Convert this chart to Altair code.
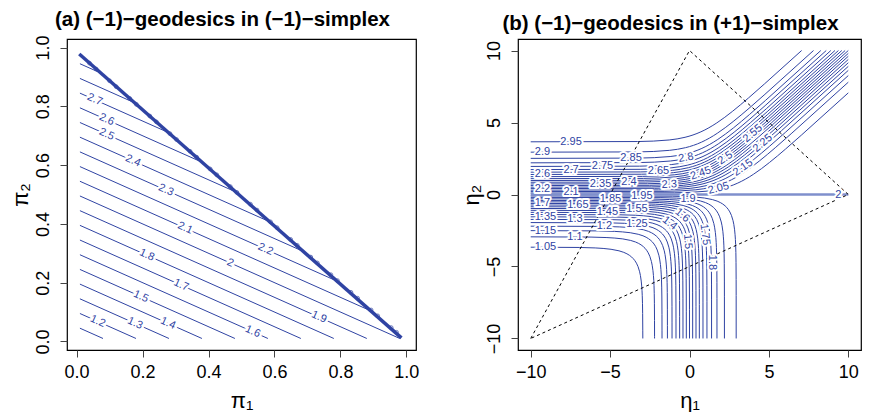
import altair as alt
import pandas as pd

BLUE = "#2f43a3"
FONT = "Liberation Sans"

# ---------------- Panel (a): lines in the (-1)-simplex ----------------
A_LEVELS = [1.1, 1.2, 1.3, 1.4, 1.5, 1.6, 1.7, 1.8, 1.9, 2.0, 2.1, 2.2, 2.3, 2.4, 2.5, 2.6, 2.7, 2.8, 2.9]
A_X0 = [0.01, 0.01, 0.01, 0.01, 0.01, 0.01, 0.01, 0.01, 0.01, 0.01, 0.01, 0.01, 0.01, 0.01, 0.01, 0.01, 0.01, 0.01, 0.01]
A_Y0 = [0.045, 0.095, 0.145, 0.195, 0.245, 0.295, 0.345, 0.395, 0.445, 0.495, 0.545, 0.595, 0.645, 0.695, 0.745, 0.795, 0.845, 0.895, 0.945]
A_X1 = [0.08, 0.18, 0.28, 0.38, 0.48, 0.58, 0.68, 0.78, 0.88, 0.98, 0.88, 0.78, 0.68, 0.58, 0.48, 0.38, 0.28, 0.18, 0.08]
A_Y1 = [0.01, 0.01, 0.01, 0.01, 0.01, 0.01, 0.01, 0.01, 0.01, 0.01, 0.11, 0.21, 0.31, 0.41, 0.51, 0.61, 0.71, 0.81, 0.91]

EDGE_PI1 = [0.008, 0.985]
EDGE_PI2 = [0.978, 0.012]

GLYPH_PI1 = [0.039, 0.059, 0.100, 0.120, 0.161, 0.181, 0.222, 0.242, 0.283, 0.303, 0.344, 0.364,
             0.405, 0.425, 0.466, 0.486, 0.527, 0.547, 0.588, 0.608, 0.649, 0.669, 0.710, 0.730,
             0.771, 0.791, 0.832, 0.852, 0.893, 0.913, 0.954, 0.970]
GLYPH_PI2 = [0.947, 0.927, 0.887, 0.867, 0.827, 0.807, 0.767, 0.747, 0.707, 0.687, 0.647, 0.627,
             0.587, 0.567, 0.527, 0.507, 0.467, 0.447, 0.407, 0.387, 0.347, 0.327, 0.287, 0.267,
             0.227, 0.207, 0.167, 0.147, 0.107, 0.087, 0.047, 0.031]

A_LAB_TEXT = ["2.7", "2.6", "2.5", "2.4", "2.3", "2.1", "2", "2.2", "1.9", "1.8", "1.7", "1.6", "1.5", "1.4", "1.3", "1.2"]
A_LAB_PI1 = [0.055, 0.091, 0.091, 0.171, 0.271, 0.329, 0.466, 0.573, 0.735, 0.213, 0.317, 0.534, 0.195, 0.277, 0.177, 0.064]
A_LAB_PI2 = [0.8225, 0.7545, 0.7045, 0.6145, 0.5145, 0.3855, 0.267, 0.3135, 0.0825, 0.2935, 0.1915, 0.033, 0.1525, 0.0615, 0.0615, 0.068]
A_LAB_ANGLE = 24

# ---------------- Panel (b): curves in the (+1)-simplex ----------------
B_LEVELS_LOW = [1.05, 1.10, 1.15, 1.20, 1.25, 1.30, 1.35, 1.40, 1.45, 1.50, 1.55, 1.60, 1.65, 1.70, 1.75, 1.80, 1.85, 1.90, 1.95]
B_H_LOW = [-3.66, -2.94, -2.51, -2.20, -1.95, -1.73, -1.55, -1.39, -1.24, -1.10, -0.97, -0.85, -0.73, -0.62, -0.51, -0.41, -0.30, -0.20, -0.10]
B_V_LOW = [-2.94, -2.20, -1.73, -1.39, -1.10, -0.85, -0.62, -0.41, -0.20, 0.00, 0.20, 0.41, 0.62, 0.85, 1.10, 1.39, 1.73, 2.20, 2.94]

B_LEVELS_HIGH = [2.05, 2.10, 2.15, 2.20, 2.25, 2.30, 2.35, 2.40, 2.45, 2.50, 2.55, 2.60, 2.65, 2.70, 2.75, 2.80, 2.85, 2.90, 2.95]
B_H_HIGH = [0.10, 0.20, 0.30, 0.41, 0.51, 0.62, 0.73, 0.85, 0.97, 1.10, 1.24, 1.39, 1.55, 1.73, 1.95, 2.20, 2.51, 2.94, 3.66]
B_W_HIGH = [3.04, 2.40, 2.04, 1.79, 1.61, 1.47, 1.35, 1.25, 1.17, 1.10, 1.04, 0.98, 0.93, 0.89, 0.85, 0.81, 0.78, 0.75, 0.72]

# bend shapes of the curves, relative to their corner
U_ELBOW = [-4, -3, -2.5, -2, -1.5, -1.2, -1, -0.85, -0.7, -0.6, -0.5, -0.4, -0.3, -0.2, -0.15, -0.1, -0.07, -0.05, -0.035, -0.02, -0.01, -0.003, -0.001]
G_ELBOW = [-0.018, -0.051, -0.086, -0.145, -0.252, -0.358, -0.459, -0.558, -0.686, -0.796, -0.933, -1.109, -1.350, -1.708, -1.971, -2.352, -2.694, -3.021, -3.370, -3.922, -4.610, -5.81, -6.91]
U_SHOULDER = [-4, -3, -2, -1.5, -1, -0.75, -0.5, -0.25, 0, 0.25, 0.5, 0.75, 1, 1.5, 2, 2.5, 3, 4]
G_SHOULDER = [0.018, 0.049, 0.127, 0.201, 0.313, 0.387, 0.474, 0.576, 0.693, 0.826, 0.974, 1.137, 1.313, 1.701, 2.127, 2.579, 3.049, 4.018]

B_MID_LEVEL = 2.0
B_MID_E1 = [-10, 10]
B_MID_E2 = [0, 0]

TRI_E1 = [-10, 0, 10, -10]
TRI_E2 = [-10, 10, 0, -10]

B_LAB_TEXT = ["2.95", "2.9", "2.85", "2.8", "2.75", "2.7", "2.65", "2.6", "2.55", "2.5", "2.45", "2.4", "2.35",
              "2.3", "2.25", "2.2", "2.15", "2.1", "2.05", "2", "1.95", "1.9", "1.85", "1.7", "1.65", "1.6",
              "1.55", "1.45", "1.4", "1.35", "1.3", "1.25", "1.2", "1.15", "1.1", "1.75", "1.5", "1.05", "1.8"]
B_LAB_E1 = [-7.46, -9.26, -3.68, -0.22, -5.48, -7.46, -1.95, -9.26, 3.99, 2.26, 0.71, -3.81, -5.60,
            -1.27, 4.61, -9.26, 3.37, -7.46, 1.83, 9.37, -3.00, -0.09, -4.98, -9.26, -7.03, -0.45,
            -3.31, -5.17, -1.25, -9.07, -7.21, -3.31, -5.36, -9.07, -7.21, 0.97, -0.12, -9.07, 1.39]
B_LAB_E2 = [3.66, 2.94, 2.52, 2.55, 1.95, 1.73, 1.61, 1.39, 4.24, 2.53, 1.46, 0.86, 0.73,
            0.68, 3.56, 0.41, 1.87, 0.20, 0.42, 0.00, -0.12, -0.31, -0.30, -0.62, -0.73, -1.45,
            -1.00, -1.24, -2.00, -1.55, -1.73, -2.08, -2.21, -2.51, -2.94, -2.78, -3.27, -3.66, -4.72]
B_LAB_ANGLE = [0, 0, 0, 350, 0, 0, 0, 0, 320, 326, 341, 0, 0,
               357, 320, 0, 325, 0, 345, 0, 0, 0, 0, 0, 0, 40,
               0, 0, 38, 0, 0, 0, 0, 0, 0, 83, 85, 0, 90]

# ---------------- build tables ----------------
rows = []
for lv, x0, y0, x1, y1 in zip(A_LEVELS, A_X0, A_Y0, A_X1, A_Y1):
    rows.append({"level": lv, "ord": 0, "pi1": x0, "pi2": y0})
    rows.append({"level": lv, "ord": 1, "pi1": x1, "pi2": y1})
df_a = pd.DataFrame(rows)
df_edge = pd.DataFrame({"pi1": EDGE_PI1, "pi2": EDGE_PI2, "ord": [0, 1]})
df_glyph = pd.DataFrame({"pi1": GLYPH_PI1, "pi2": GLYPH_PI2})
df_alab = pd.DataFrame({"t": A_LAB_TEXT, "pi1": A_LAB_PI1, "pi2": A_LAB_PI2, "ang": [A_LAB_ANGLE] * len(A_LAB_TEXT)})

rows = []
for lv, h, v in zip(B_LEVELS_LOW, B_H_LOW, B_V_LOW):
    pts = [(-10.0, h)]
    pts += [(v + u, h + g) for u, g in zip(U_ELBOW, G_ELBOW) if h + g > -10]
    pts.append((v, -10.0))
    for i, (e1, e2) in enumerate(pts):
        rows.append({"level": lv, "ord": i, "e1": e1, "e2": e2})
for lv, h, w in zip(B_LEVELS_HIGH, B_H_HIGH, B_W_HIGH):
    pts = [(-10.0, h)]
    pts += [(w + u, h + g) for u, g in zip(U_SHOULDER, G_SHOULDER)]
    c = h - w
    pts.append((10 - c, 10.0) if c >= 0 else (10.0, 10 + c))
    for i, (e1, e2) in enumerate(pts):
        rows.append({"level": lv, "ord": i, "e1": e1, "e2": e2})
df_b = pd.DataFrame(rows)
df_mid = pd.DataFrame({"e1": B_MID_E1, "e2": B_MID_E2, "ord": [0, 1], "level": [B_MID_LEVEL] * 2})
df_tri = pd.DataFrame({"e1": TRI_E1, "e2": TRI_E2, "ord": [0, 1, 2, 3]})
df_blab = pd.DataFrame({"t": B_LAB_TEXT, "e1": B_LAB_E1, "e2": B_LAB_E2, "ang": B_LAB_ANGLE})

# ---------------- scales / axes ----------------
W, H = 349, 311
W2 = 343


def title(txt):
    return alt.TitleParams(txt, fontSize=20.5, fontWeight="bold", font=FONT, anchor="middle",
                           frame="group", offset=5, dx=-19, color="black")


def y_axis(vals, ttl, fmt=None):
    kw = dict(values=vals, title=ttl, labelAngle=270, labelAlign="center", labelBaseline="bottom",
              titleAngle=270, titleX=-40, titleY=H / 2, titleBaseline="alphabetic", titleAlign="center")
    if fmt:
        kw["format"] = fmt
    return alt.Axis(**kw)


def x_axis(vals, ttl, width, fmt=None):
    kw = dict(values=vals, title=ttl, titleX=width / 2, titleY=57, titleBaseline="alphabetic",
              titleAlign="center")
    if fmt:
        kw["format"] = fmt
    return alt.Axis(**kw)


xa = alt.X("pi1:Q", scale=alt.Scale(domain=[-0.0292, 1.0292], nice=False, zero=False),
           axis=x_axis([0, 0.2, 0.4, 0.6, 0.8, 1.0], "π₁", W, ".1f"))
ya = alt.Y("pi2:Q", scale=alt.Scale(domain=[-0.0292, 1.0292], nice=False, zero=False),
           axis=y_axis([0, 0.2, 0.4, 0.6, 0.8, 1.0], "π₂", ".1f"))
xb = alt.X("e1:Q", scale=alt.Scale(domain=[-10.8, 10.8], nice=False, zero=False),
           axis=x_axis([-10, -5, 0, 5, 10], "η₁", W2))
yb = alt.Y("e2:Q", scale=alt.Scale(domain=[-10.8, 10.8], nice=False, zero=False),
           axis=y_axis([-10, -5, 0, 5, 10], "η₂"))

# ---------------- panel (a) ----------------
a_lines = alt.Chart(df_a).mark_line(color=BLUE, strokeWidth=1).encode(
    x=xa, y=ya, detail="level:N", order="ord:O")
a_edge = alt.Chart(df_edge).mark_line(color=BLUE, strokeWidth=3.5).encode(
    x="pi1:Q", y="pi2:Q", order="ord:O")
a_glyph = alt.Chart(df_glyph).mark_point(shape="circle", size=14, filled=False, color=BLUE, strokeWidth=1).encode(
    x="pi1:Q", y="pi2:Q")
a_halo = alt.Chart(df_alab).mark_text(font=FONT, fontSize=11, color="white", stroke="white",
                                      strokeWidth=5, strokeJoin="round").encode(
    x="pi1:Q", y="pi2:Q", text="t:N", angle=alt.Angle("ang:Q", scale=None))
a_text = alt.Chart(df_alab).mark_text(font=FONT, fontSize=11, color=BLUE).encode(
    x="pi1:Q", y="pi2:Q", text="t:N", angle=alt.Angle("ang:Q", scale=None))
left = alt.layer(a_lines, a_edge, a_glyph, a_halo, a_text).properties(
    width=W, height=H, title=title("(a) (−1)−geodesics in (−1)−simplex"))

# ---------------- panel (b) ----------------
b_curves = alt.Chart(df_b).mark_line(color=BLUE, strokeWidth=1, clip=True).encode(
    x=xb, y=yb, detail="level:N", order="ord:O")
b_mid = alt.Chart(df_mid).mark_line(color="#7f8fcc", strokeWidth=2.5).encode(
    x="e1:Q", y="e2:Q", order="ord:O")
b_tri = alt.Chart(df_tri).mark_line(color="black", strokeWidth=1, strokeDash=[3, 3]).encode(
    x="e1:Q", y="e2:Q", order="ord:O")
b_halo = alt.Chart(df_blab).mark_text(font=FONT, fontSize=11, color="white", stroke="white",
                                      strokeWidth=4, strokeJoin="round").encode(
    x="e1:Q", y="e2:Q", text="t:N", angle=alt.Angle("ang:Q", scale=None))
b_text = alt.Chart(df_blab).mark_text(font=FONT, fontSize=11, color=BLUE).encode(
    x="e1:Q", y="e2:Q", text="t:N", angle=alt.Angle("ang:Q", scale=None))
right = alt.layer(b_curves, b_mid, b_tri, b_halo, b_text).properties(
    width=W2, height=H, title=title("(b) (−1)−geodesics in (+1)−simplex"))

chart = alt.hconcat(left, right, spacing=39).properties(
    padding=0
).configure_view(
    stroke="black", strokeWidth=1.2
).configure_axis(
    labelFont=FONT, labelFontSize=18, labelColor="black", labelPadding=8,
    tickColor="#444444", tickSize=7, tickWidth=1, domain=False, grid=False,
    titleFont=FONT, titleFontSize=22, titleFontWeight="normal", titleColor="black"
).configure_axisX(labelPadding=6)

chart.save("out.html", embed_options={"renderer": "svg", "actions": False})
